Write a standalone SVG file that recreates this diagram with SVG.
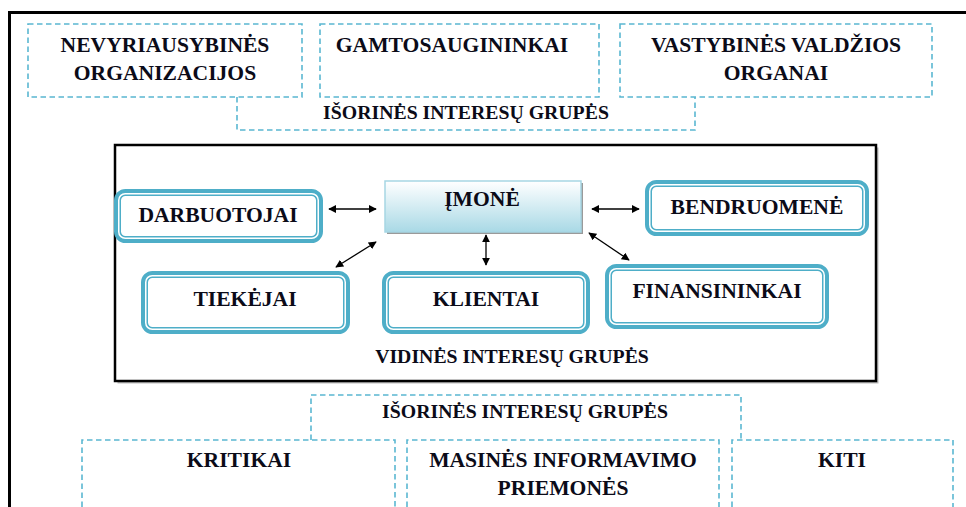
<svg xmlns="http://www.w3.org/2000/svg" width="966" height="507" viewBox="0 0 966 507">
<style>
.t{font-family:"Liberation Serif","Times New Roman","DejaVu Serif",serif;font-weight:bold;fill:#0b0b18;text-anchor:middle}
.big{font-size:21.6px}
.sm{font-size:19.8px}
.dash{fill:none;stroke:#5ab7d1;stroke-width:1.6;stroke-dasharray:5.5 3.5}
.ro{fill:#fff;stroke:#4eaec8;stroke-width:7}
.ri{fill:none;stroke:#fff;stroke-width:1.5}
.ar{fill:none;stroke:#000;stroke-width:1.3;marker-start:url(#ah);marker-end:url(#ah)}
</style>
<defs>
<marker id="ah" viewBox="0 0 10 10" refX="9" refY="5" markerWidth="8" markerHeight="8" markerUnits="userSpaceOnUse" orient="auto-start-reverse">
<path d="M0,0 L10,5 L0,10 z" fill="#000"/>
</marker>
<linearGradient id="g" x1="0" y1="0" x2="0" y2="1">
<stop offset="0" stop-color="#ffffff"/>
<stop offset="1" stop-color="#a9d9e6"/>
</linearGradient>
</defs>
<rect width="966" height="507" fill="#fff"/>
<g id="frame">
<path d="M9.5,507 V12.5 H966" fill="none" stroke="#000" stroke-width="3"/>
</g>
<g id="ngo">
<rect class="dash" x="28" y="24" width="274" height="73"/>
<text class="t big" x="165" y="52">NEVYRIAUSYBINĖS</text>
<text class="t big" x="165" y="80">ORGANIZACIJOS</text>
</g>
<g id="gamto">
<rect class="dash" x="320" y="24" width="279" height="73"/>
<text class="t big" x="452" y="52">GAMTOSAUGININKAI</text>
</g>
<g id="valdzia">
<rect class="dash" x="620" y="24" width="312" height="73"/>
<text class="t big" x="776" y="52">VASTYBINĖS VALDŽIOS</text>
<text class="t big" x="776" y="80">ORGANAI</text>
</g>
<g id="isorines-top">
<path class="dash" d="M237,97 V130 H695 V97"/>
<text class="t sm" x="466" y="119">IŠORINĖS INTERESŲ GRUPĖS</text>
</g>
<g id="vidines">
<rect x="117.5" y="147.5" width="761" height="236" fill="#bbb"/>
<rect x="115" y="145" width="761" height="236" fill="#fff" stroke="#000" stroke-width="2.5"/>
<text class="t sm" x="512" y="363">VIDINĖS INTERESŲ GRUPĖS</text>
</g>
<g id="imone">
<rect x="387" y="183" width="196" height="51" fill="#9a9a9a"/>
<rect x="385" y="181" width="196" height="51" fill="url(#g)" stroke="#a6d6e4" stroke-width="1.5"/>
<text class="t big" x="482" y="206">ĮMONĖ</text>
</g>
<g id="darbuotojai">
<rect class="ro" x="117.5" y="192.5" width="202" height="47" rx="8"/>
<rect class="ri" x="118.75" y="193.75" width="199.5" height="44.5" rx="6.5"/>
<text class="t big" x="218" y="222">DARBUOTOJAI</text>
</g>
<g id="tiekejai">
<rect class="ro" x="144.5" y="274.5" width="202" height="56" rx="8"/>
<rect class="ri" x="145.75" y="275.75" width="199.5" height="53.5" rx="6.5"/>
<text class="t big" x="245" y="306">TIEKĖJAI</text>
</g>
<g id="klientai">
<rect class="ro" x="385.5" y="274.5" width="201" height="56" rx="8"/>
<rect class="ri" x="386.75" y="275.75" width="198.5" height="53.5" rx="6.5"/>
<text class="t big" x="486" y="306">KLIENTAI</text>
</g>
<g id="bendruomene">
<rect class="ro" x="648.5" y="183.5" width="217" height="49" rx="8"/>
<rect class="ri" x="649.75" y="184.75" width="214.5" height="46.5" rx="6.5"/>
<text class="t big" x="757" y="214">BENDRUOMENĖ</text>
</g>
<g id="finansininkai">
<rect class="ro" x="608.5" y="267.5" width="217" height="58" rx="8"/>
<rect class="ri" x="609.75" y="268.75" width="214.5" height="55.5" rx="6.5"/>
<text class="t big" x="717" y="298">FINANSININKAI</text>
</g>
<g id="connectors">
<line class="ar" x1="329" y1="209" x2="376" y2="209"/>
<line class="ar" x1="376" y1="242" x2="336" y2="267"/>
<line class="ar" x1="486" y1="235" x2="486" y2="265"/>
<line class="ar" x1="592" y1="209" x2="639" y2="209"/>
<line class="ar" x1="589" y1="233" x2="629" y2="260"/>
</g>
<g id="isorines-bottom">
<path class="dash" d="M311,440 V395 H741 V440"/>
<text class="t sm" x="525" y="418">IŠORINĖS INTERESŲ GRUPĖS</text>
</g>
<g id="kritikai">
<path class="dash" d="M82,507 V440 H395 V507"/>
<text class="t big" x="239" y="467">KRITIKAI</text>
</g>
<g id="masines">
<path class="dash" d="M407,507 V440 H719 V507"/>
<text class="t big" x="563" y="467">MASINĖS INFORMAVIMO</text>
<text class="t big" x="563" y="495">PRIEMONĖS</text>
</g>
<g id="kiti">
<path class="dash" d="M732,507 V440 H953 V507"/>
<text class="t big" x="842" y="467">KITI</text>
</g>
</svg>
